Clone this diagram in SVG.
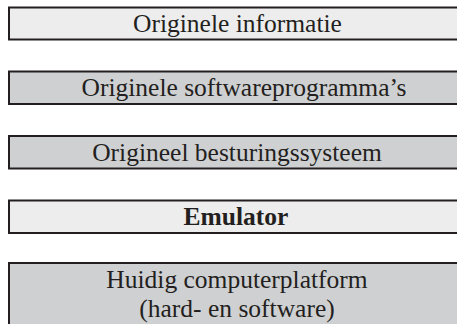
<svg xmlns="http://www.w3.org/2000/svg" width="457" height="324" viewBox="0 0 457 324">
<style>
.box{stroke:#231f20;stroke-width:2}
.light{fill:#ededed}
.dark{fill:#cfd0d2}
text{font-family:"Liberation Serif","Times New Roman",serif;font-size:25.5px;fill:#231f20;text-anchor:middle}
.b{font-weight:bold}
</style>
<rect width="457" height="324" fill="#ffffff"/>
<g id="connectors"></g>
<g id="node1">
<rect class="box light" x="9" y="7.5" width="470" height="32"/>
<text x="237.5" y="31.5">Originele informatie</text>
</g>
<g id="node2">
<rect class="box dark" x="9" y="71.5" width="470" height="32.5"/>
<text x="244" y="96">Originele softwareprogramma’s</text>
</g>
<g id="node3">
<rect class="box dark" x="9" y="136" width="470" height="32.5"/>
<text x="237" y="160.5">Origineel besturingssysteem</text>
</g>
<g id="node4">
<rect class="box light" x="9" y="200.5" width="470" height="32.5"/>
<text class="b" x="236" y="225">Emulator</text>
</g>
<g id="node5">
<rect class="box dark" x="9" y="263" width="470" height="80"/>
<text x="237" y="288">Huidig computerplatform</text>
<text x="237" y="317">(hard- en software)</text>
</g>
</svg>
